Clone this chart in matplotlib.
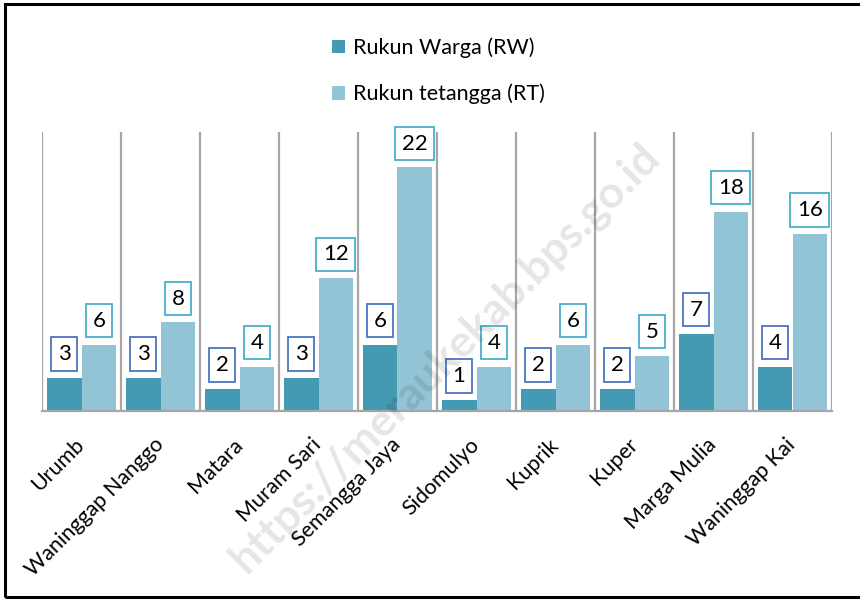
import matplotlib
matplotlib.use("Agg")
from matplotlib import pyplot as plt
from matplotlib.patches import Rectangle
import numpy as np

# data
kampung = ['Urumb', 'Waninggap Nanggo', 'Matara', 'Muram Sari', 'Semangga Jaya',
           'Sidomulyo', 'Kuprik', 'Kuper', 'Marga Mulia', 'Waninggap Kai']
rw = [3, 3, 2, 3, 6, 1, 2, 2, 7, 4]
rt = [6, 8, 4, 12, 22, 4, 6, 5, 18, 16]

c_rw = '#439ab2'
c_rt = '#93c4d6'

plt.rcParams['font.family'] = ['Lato', 'DejaVu Sans']

fig = plt.figure(figsize=(8.6, 6), dpi=100)
ax = fig.add_axes([42 / 860, 189 / 600, 790 / 860, 279 / 600])

x = np.arange(len(kampung))
w = 0.44
b1 = ax.bar(x - w / 2, rw, w, color=c_rw, label='Rukun Warga (RW)', zorder=2)
b2 = ax.bar(x + w / 2, rt, w, color=c_rt, label='Rukun tetangga (RT)', zorder=2)

for bars, vals, ec in [(b1, rw, '#4a74c0'), (b2, rt, '#4bafc8')]:
    for b, v in zip(bars, vals):
        ax.annotate(str(v), (b.get_x() + b.get_width() / 2, b.get_height()),
                    xytext=(0, 10), textcoords='offset points',
                    ha='center', va='bottom', fontsize=16, color='black',
                    bbox=dict(boxstyle='square,pad=0.3', fc='white', ec=ec, lw=1.3),
                    zorder=4)

ax.set_xlim(-0.5, len(kampung) - 0.5)
ax.set_ylim(0, 25.2)
for gx in np.arange(-0.5, len(kampung), 1.0):
    ax.axvline(gx, color='#a6a6a6', lw=1.6, zorder=1)

ax.set_yticks([])
ax.set_xticks(x)
ax.set_xticklabels(kampung, rotation=45, ha='right', va='center',
                   rotation_mode='anchor', fontsize=15.5)
ax.tick_params(axis='x', length=0, pad=22)
for s in ['top', 'left', 'right']:
    ax.spines[s].set_visible(False)
ax.spines['bottom'].set_color('#a6a6a6')
ax.spines['bottom'].set_linewidth(1.6)

fig.legend(handles=[b1, b2], loc='upper center', bbox_to_anchor=(0.51, 0.97),
           frameon=False, fontsize=15.5, handlelength=0.6, handleheight=0.6,
           handletextpad=0.35, labelspacing=1.2)

# figure frame
fig.patches.append(Rectangle((5 / 860, 3 / 600), 1.0, 593 / 600,
                             transform=fig.transFigure, fill=False,
                             ec='black', lw=2.2, zorder=10))

# watermark
fig.text(445 / 860, 1 - 358 / 600, 'https://meraukekab.bps.go.id',
         rotation=45, ha='center', va='center', fontsize=32,
         fontweight='bold', color='#000000', alpha=0.1, zorder=20)

fig.savefig('out.png', dpi=100)
